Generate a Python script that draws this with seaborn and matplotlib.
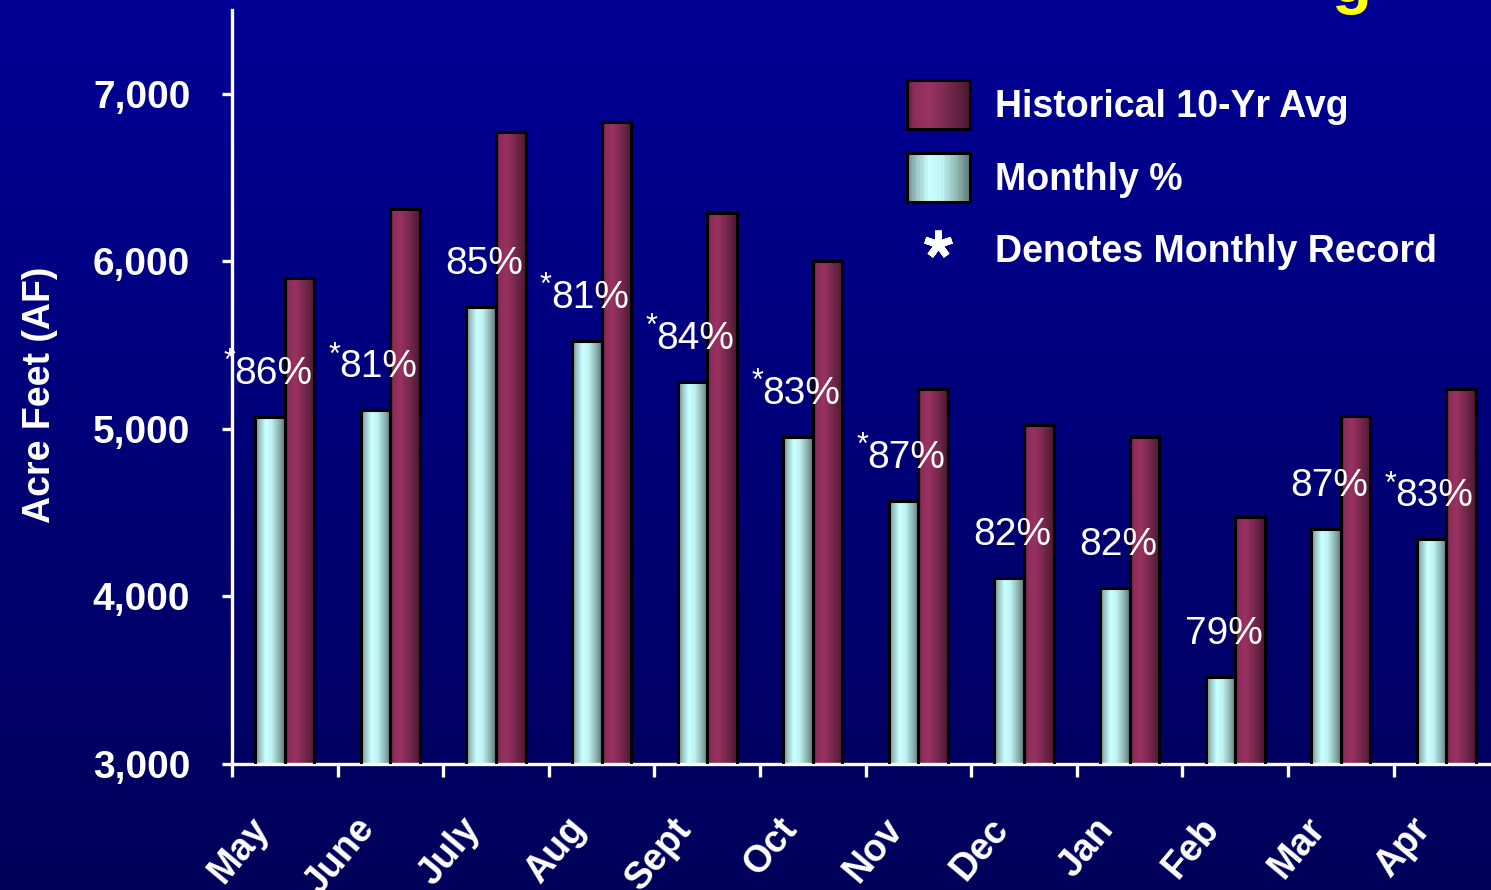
import numpy as np
import pandas as pd
import matplotlib
matplotlib.use('Agg')
import matplotlib.pyplot as plt
from matplotlib.colors import LinearSegmentedColormap
from matplotlib.patches import Rectangle
from matplotlib.lines import Line2D
from matplotlib.legend_handler import HandlerBase
from matplotlib.ticker import FixedLocator, FuncFormatter
from matplotlib.transforms import ScaledTranslation
import seaborn as sns

months = ['May', 'June', 'July', 'Aug', 'Sept', 'Oct', 'Nov', 'Dec', 'Jan', 'Feb', 'Mar', 'Apr']
monthly = [5070, 5110, 5730, 5525, 5280, 4950, 4570, 4110, 4050, 3520, 4400, 4340]
historical = [5900, 6310, 6770, 6830, 6290, 6000, 5240, 5025, 4950, 4475, 5075, 5240]
pct_labels = ['86%', '81%', '85%', '81%', '84%', '83%', '87%', '82%', '82%', '79%', '87%', '83%']
is_record = [True, True, False, True, True, True, True, False, False, False, False, True]
series_names = ['Monthly %', 'Historical 10-Yr Avg']

df = pd.DataFrame({
    'month': months * 2,
    'af': monthly + historical,
    'series': [series_names[0]] * len(months) + [series_names[1]] * len(months),
})

cyan_cmap = LinearSegmentedColormap.from_list('cy', [
    (0.0, '#6a8a88'), (0.15, '#9cc4c2'), (0.35, '#c8ffff'), (0.55, '#c0f4f4'),
    (0.8, '#8fb5b3'), (1.0, '#5d7b79')])
maroon_cmap = LinearSegmentedColormap.from_list('mr', [
    (0.0, '#5a1f40'), (0.12, '#8c2d5a'), (0.35, '#9a3262'), (0.6, '#7e2a52'),
    (0.85, '#5e203e'), (1.0, '#4a1830')])

sns.set_style('white')
plt.rcParams['font.family'] = ['Liberation Sans', 'DejaVu Sans']

W, H = 1491, 890
fig = plt.figure(figsize=(W / 100, H / 100), dpi=100)

# background gradient
bg = fig.add_axes([0, 0, 1, 1], zorder=-5)
grad = np.linspace(0, 1, 256).reshape(-1, 1)
bg_cmap = LinearSegmentedColormap.from_list('bg', ['#000096', '#00005a'])
bg.imshow(grad, aspect='auto', cmap=bg_cmap, extent=[0, 1, 0, 1], origin='upper')
bg.axis('off')

ax_left, ax_bottom = 232 / W, 1 - 764 / H
ax = fig.add_axes([ax_left, ax_bottom, 12 * 105.6 / W, 754 / H])
ax.set_facecolor('none')

sns.barplot(data=df, x='month', y='af', hue='series', hue_order=series_names,
            order=months, width=0.56, dodge=True, ax=ax, legend=False,
            edgecolor='black', linewidth=2.2, saturation=1,
            palette=['#c8ffff', '#9a3262'])

ymin, ymax = 3000, 7500
cmaps = [cyan_cmap, maroon_cmap]
hgrad = np.linspace(0, 1, 64).reshape(1, -1)
for cont, cm in zip(ax.containers, cmaps):
    for bar in cont:
        x0, y0 = bar.get_x(), bar.get_y()
        w, h = bar.get_width(), bar.get_height()
        im = ax.imshow(hgrad, cmap=cm, aspect='auto',
                       extent=[x0, x0 + w, max(y0, ymin), y0 + h],
                       zorder=2, interpolation='bilinear')
        im.set_clip_path(bar)
        bar.set_facecolor('none')
        bar.set_zorder(3)

ax.set_xlim(-0.5, 11.5)
ax.set_ylim(ymin, ymax)

# percent labels above the monthly bars
px = 0.72
for bar, lab, rec in zip(ax.containers[0], pct_labels, is_record):
    cx = bar.get_x() + bar.get_width() / 2
    top = bar.get_y() + bar.get_height()
    ax.annotate(lab, (cx, top), xytext=(3 * px, 43 * px), textcoords='offset points',
                ha='center', va='center', fontsize=28, color='white', zorder=5)
    if rec:
        ax.annotate('*', (cx, top), xytext=((3 - 38) * px, 55 * px), textcoords='offset points',
                    ha='right', va='center', fontsize=22, color='white', zorder=5)

# axes styling
for s in ['top', 'right']:
    ax.spines[s].set_visible(False)
for s in ['left', 'bottom']:
    ax.spines[s].set_color('white')
    ax.spines[s].set_linewidth(2.4)

ax.yaxis.set_major_locator(FixedLocator([3000, 4000, 5000, 6000, 7000]))
ax.yaxis.set_major_formatter(FuncFormatter(lambda v, p: f'{int(v):,}'))
ax.tick_params(axis='y', direction='out', length=7, width=2.4, color='white',
               labelcolor='white', labelsize=28, pad=23, left=True)
for t in ax.get_yticklabels():
    t.set_fontweight('bold')

ax.xaxis.set_minor_locator(FixedLocator(np.arange(-0.5, 11.0, 1.0)))
ax.tick_params(axis='x', which='minor', direction='out', length=9, width=2.4,
               color='white', bottom=True)
ax.tick_params(axis='x', which='major', length=0, pad=34, labelsize=27, labelcolor='white')
ax.set_xticks(range(len(months)))
ax.set_xticklabels(months, rotation=50, ha='right', va='top', rotation_mode='anchor',
                   fontweight='bold')
offset = ScaledTranslation(-0.36, 0, fig.dpi_scale_trans)
for t in ax.get_xticklabels():
    t.set_transform(t.get_transform() + offset)

ax.set_xlabel('')
ax.set_ylabel('Acre Feet (AF)', color='white', fontsize=27, fontweight='bold')
ax.yaxis.set_label_coords((58 - 232) / (12 * 105.6), 0.49)


class GradientHandler(HandlerBase):
    def __init__(self, cmap):
        super().__init__()
        self.cmap = cmap

    def create_artists(self, legend, orig_handle, xdescent, ydescent, width, height,
                       fontsize, trans):
        arts = []
        n = 24
        for i in range(n):
            r = Rectangle((-xdescent + width * i / n, -ydescent), width / n + 0.3, height,
                          facecolor=self.cmap((i + 0.5) / n), edgecolor='none',
                          transform=trans)
            arts.append(r)
        arts.append(Rectangle((-xdescent, -ydescent), width, height, facecolor='none',
                              edgecolor='black', linewidth=2.2, transform=trans))
        return arts


h_hist = Rectangle((0, 0), 1, 1)
h_mon = Rectangle((0, 0), 1, 1)
h_star = Line2D([], [], linestyle='none', marker=(5, 2, 0), markersize=20,
                markeredgewidth=5, color='white')
leg = ax.legend([h_hist, h_mon, h_star],
                ['Historical 10-Yr Avg', 'Monthly %', 'Denotes Monthly Record'],
                handler_map={h_hist: GradientHandler(maroon_cmap),
                             h_mon: GradientHandler(cyan_cmap)},
                loc='upper left', bbox_to_anchor=(907 / W, 1 - 80 / H),
                bbox_transform=fig.transFigure, frameon=False, fontsize=27,
                handlelength=1.67, handleheight=1.65, handletextpad=0.67,
                labelspacing=0.62, borderpad=0, borderaxespad=0)
for t in leg.get_texts():
    t.set_color('white')
    t.set_fontweight('bold')

# cut-off yellow title glyph at the top edge
fig.text(1351 / W, 1 - 2 / H, 'g', color='#ffff00', fontsize=47, fontweight='bold',
         ha='center', va='baseline')

fig.savefig('out.png', dpi=100)
